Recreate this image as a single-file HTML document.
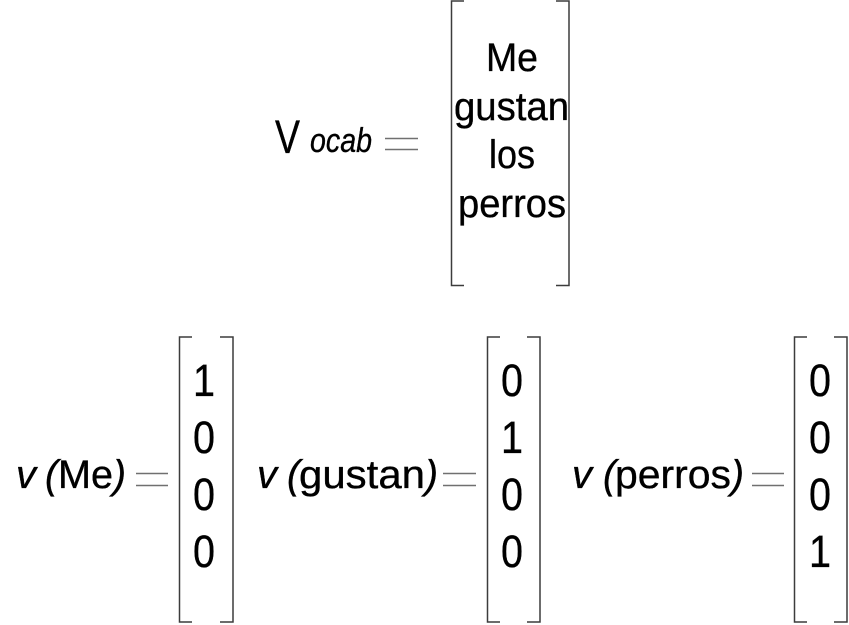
<!DOCTYPE html>
<html>
<head>
<meta charset="utf-8">
<style>
html,body{margin:0;padding:0;background:#fff;width:849px;height:625px;overflow:hidden}
svg{display:block}
text{font-family:"Liberation Sans",sans-serif;fill:#000;stroke:#000;stroke-width:.35px}
.t{font-size:40px}
.d{font-size:45px}
.i{font-style:italic}
path{fill:none;stroke:#3c3c3c;stroke-width:1.5}
.e{stroke:#707070;stroke-width:1.6}
</style>
</head>
<body>
<svg width="849" height="625" viewBox="0 0 849 625" xmlns="http://www.w3.org/2000/svg">
<rect width="849" height="625" fill="#fff"/>

<text x="275" y="153" font-size="47" textLength="25" lengthAdjust="spacingAndGlyphs">V</text>
<text x="310" y="152" font-size="34" class="i" textLength="62" lengthAdjust="spacingAndGlyphs">ocab</text>
<path class="e" d="M385 138.500H418M385 149.500H418"/>

<path d="M464 1H451.500V285.500H464M556 1H569V285.500H556"/>
<text class="t" x="486" y="71" textLength="52" lengthAdjust="spacingAndGlyphs">Me</text>
<text class="t" x="454" y="120" textLength="115" lengthAdjust="spacingAndGlyphs">gustan</text>
<text class="t" x="489" y="168" textLength="46" lengthAdjust="spacingAndGlyphs">los</text>
<text class="t" x="458" y="217" textLength="108" lengthAdjust="spacingAndGlyphs">perros</text>

<text class="t i" x="16" y="488" textLength="20" lengthAdjust="spacingAndGlyphs">v</text>
<text class="t i" x="45" y="488" textLength="13" lengthAdjust="spacingAndGlyphs">(</text>
<text class="t" x="58" y="488" textLength="55" lengthAdjust="spacingAndGlyphs">Me</text>
<text class="t i" x="113" y="488" textLength="13" lengthAdjust="spacingAndGlyphs">)</text>
<path class="e" d="M136 473.500H168M136 485.500H168"/>

<path d="M192 337H179.500V622H192M220 337H233V622H220"/>
<text class="d" x="193" y="396" textLength="22" lengthAdjust="spacingAndGlyphs">1</text>
<text class="d" x="193" y="453" textLength="22" lengthAdjust="spacingAndGlyphs">0</text>
<text class="d" x="193" y="510" textLength="22" lengthAdjust="spacingAndGlyphs">0</text>
<text class="d" x="193" y="567" textLength="22" lengthAdjust="spacingAndGlyphs">0</text>

<text class="t i" x="257" y="488" textLength="20" lengthAdjust="spacingAndGlyphs">v</text>
<text class="t i" x="287" y="488" textLength="13" lengthAdjust="spacingAndGlyphs">(</text>
<text class="t" x="299" y="488" textLength="126" lengthAdjust="spacingAndGlyphs">gustan</text>
<text class="t i" x="425" y="488" textLength="13" lengthAdjust="spacingAndGlyphs">)</text>
<path class="e" d="M443 473.500H476M443 485.500H476"/>

<path d="M500 337H487.500V622H500M527 337H540V622H527"/>
<text class="d" x="501" y="396" textLength="22" lengthAdjust="spacingAndGlyphs">0</text>
<text class="d" x="501" y="453" textLength="22" lengthAdjust="spacingAndGlyphs">1</text>
<text class="d" x="501" y="510" textLength="22" lengthAdjust="spacingAndGlyphs">0</text>
<text class="d" x="501" y="567" textLength="22" lengthAdjust="spacingAndGlyphs">0</text>

<text class="t i" x="572" y="488" textLength="20" lengthAdjust="spacingAndGlyphs">v</text>
<text class="t i" x="603" y="488" textLength="13" lengthAdjust="spacingAndGlyphs">(</text>
<text class="t" x="615" y="488" textLength="116" lengthAdjust="spacingAndGlyphs">perros</text>
<text class="t i" x="731" y="488" textLength="13" lengthAdjust="spacingAndGlyphs">)</text>
<path class="e" d="M752 473.500H784M752 485.500H784"/>

<path d="M807 337H794.500V622H807M834 337H847V622H834"/>
<text class="d" x="809" y="396" textLength="22" lengthAdjust="spacingAndGlyphs">0</text>
<text class="d" x="809" y="453" textLength="22" lengthAdjust="spacingAndGlyphs">0</text>
<text class="d" x="809" y="510" textLength="22" lengthAdjust="spacingAndGlyphs">0</text>
<text class="d" x="809" y="567" textLength="22" lengthAdjust="spacingAndGlyphs">1</text>
</svg>
</body>
</html>
